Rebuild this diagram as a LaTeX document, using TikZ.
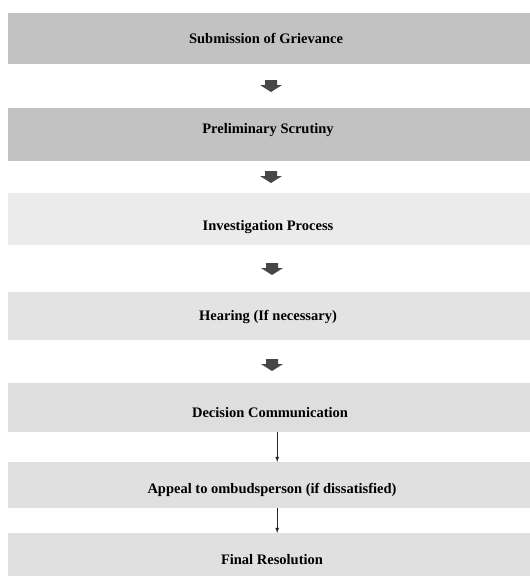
\documentclass[tikz,border=0pt]{standalone}
\usepackage{fontspec}
\setmainfont{Liberation Serif}
\begin{document}
\begin{tikzpicture}[x=1pt,y=-1pt,
  stagebox/.style={draw=none,minimum width=522pt,anchor=north west,inner sep=0pt},
  stagetext/.style={font=\bfseries\fontsize{14.5}{16}\selectfont,inner sep=0pt},
  blockarrow/.style={fill=black!72,draw=none},
  thinarrow/.style={draw=black!85,line width=0.8pt,-latex}]
\useasboundingbox (0,0) rectangle (530,576);
\fill[white] (0,0) rectangle (530,576);
\node[stagebox,fill=black!24,minimum height=51pt] (s1) at (8,13) {};
\node[stagetext] (t1) at (266,38) {Submission of Grievance};
\node[stagebox,fill=black!24,minimum height=53pt] (s2) at (8,108) {};
\node[stagetext] (t2) at (268,130) {Preliminary Scrutiny};
\node[stagebox,fill=black!8,minimum height=52pt] (s3) at (8,193) {};
\node[stagetext] (t3) at (268,227) {Investigation Process};
\node[stagebox,fill=black!11,minimum height=48pt] (s4) at (8,292) {};
\node[stagetext] (t4) at (268,317) {Hearing (If necessary)};
\node[stagebox,fill=black!13,minimum height=49pt] (s5) at (8,383) {};
\node[stagetext] (t5) at (270,413) {Decision Communication};
\node[stagebox,fill=black!12,minimum height=46pt] (s6) at (8,462) {};
\node[stagetext] (t6) at (272,490) {Appeal to ombudsperson (if dissatisfied)};
\node[stagebox,fill=black!12,minimum height=43pt] (s7) at (8,533) {};
\node[stagetext] (t7) at (272,560) {Final Resolution};
\coordinate (a1) at (271,86);
\coordinate (a2) at (271,177);
\coordinate (a3) at (272,269);
\coordinate (a4) at (272,365);
\foreach \a in {a1,a2,a3,a4}
  \fill[blockarrow,shift={(\a)}] (-6,-6) -- (6,-6) -- (6,-1) -- (11,-1) -- (0,6) -- (-11,-1) -- (-6,-1) -- cycle;
\draw[thinarrow] ([xshift=8pt]s5.south) -- ([xshift=8pt]s6.north);
\draw[thinarrow] ([xshift=8pt]s6.south) -- ([xshift=8pt]s7.north);
\end{tikzpicture}
\end{document}
